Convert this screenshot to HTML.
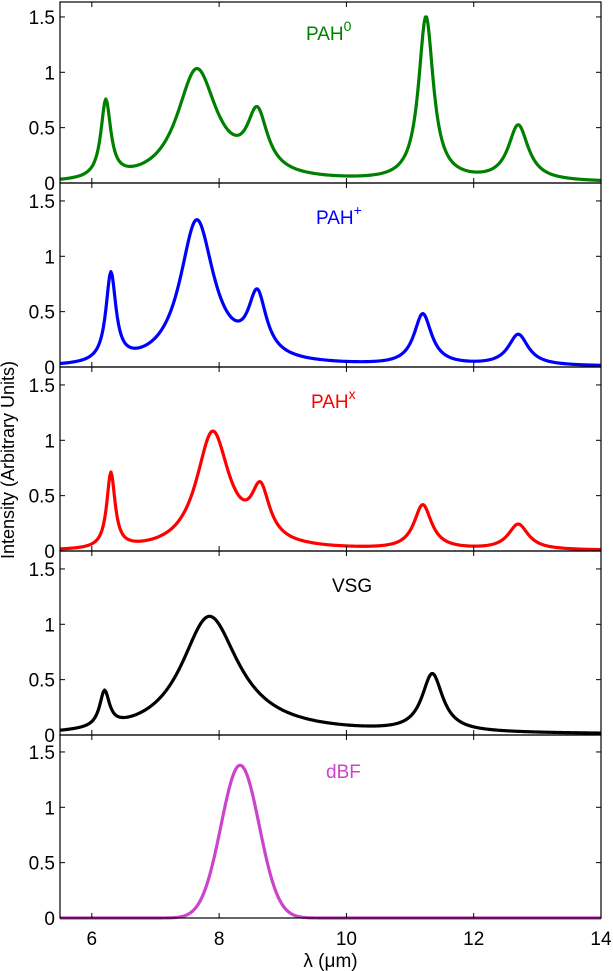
<!DOCTYPE html>
<html><head><meta charset="utf-8"><style>
body{margin:0;background:#fff}
svg{display:block;font-family:"Liberation Sans",sans-serif}
</style></head><body>
<svg id="chart" width="613" height="971" viewBox="0 0 613 971"></svg>
<script>
// Data: peak parameters (center µm, peak height, fractional width)
const xTicks = [6, 8, 10, 12, 14];
const yTicks = [0, 0.5, 1, 1.5];
const yTickLabels = ["0", "0.5", "1", "1.5"];
const pah0Centers = [6.22, 7.65, 8.6, 11.25, 12.7];
const pah0Heights = [0.70, 1.01, 0.53, 1.48, 0.50];
const pah0Widths  = [0.030, 0.10, 0.045, 0.025, 0.030];
const pahpCenters = [6.3, 7.65, 8.6, 11.2, 12.7];
const pahpHeights = [0.80, 1.31, 0.55, 0.46, 0.28];
const pahpWidths  = [0.030, 0.085, 0.040, 0.030, 0.030];
const pahxCenters = [6.3, 7.9, 8.65, 11.2, 12.7];
const pahxHeights = [0.68, 1.06, 0.45, 0.40, 0.23];
const pahxWidths  = [0.025, 0.080, 0.040, 0.030, 0.030];
const vsgCenters = [6.2, 7.85, 11.35];
const vsgHeights = [0.32, 1.07, 0.52];
const vsgWidths  = [0.030, 0.14, 0.035];
const dbfCenter = [8.33];
const dbfHeight = [1.38];
const dbfSigma  = [0.30];

const svg = document.getElementById('chart');
const NS = 'http://www.w3.org/2000/svg';
const X0 = 60, X1 = 601, XMIN = 5.5, XMAX = 14;
const panels = [
  {top:2, bot:183, name:'pah0', color:'#008000', label:'PAH', sup:'0', lx:306, ly:40},
  {top:183, bot:367, name:'pah-plus', color:'#0000ff', label:'PAH', sup:'+', lx:316, ly:224},
  {top:367, bot:551, name:'pah-x', color:'#ff0000', label:'PAH', sup:'x', lx:311, ly:408},
  {top:551, bot:735, name:'vsg', color:'#000000', label:'VSG', sup:'', lx:332, ly:592},
  {top:735, bot:918, name:'dbf', color:'#cc44cc', label:'dBF', sup:'', lx:326, ly:778}
];
const YPX = 110.7;
function xs(v){ return X0 + (v - XMIN) * (X1 - X0) / (XMAX - XMIN); }
function ysf(p){ return v => p.bot - v * YPX; }
function drude(l, cs, hs, ws){ let s = 0; for(let i=0;i<cs.length;i++){ const d = l/cs[i] - cs[i]/l; s += hs[i]*ws[i]*ws[i]/(d*d + ws[i]*ws[i]); } return s; }
function gauss(l){ let s=0; for(let i=0;i<dbfCenter.length;i++){ s += dbfHeight[i]*Math.exp(-0.5*Math.pow((l-dbfCenter[i])/dbfSigma[i],2)); } return s; }
const funcs = [
  l => drude(l, pah0Centers, pah0Heights, pah0Widths),
  l => drude(l, pahpCenters, pahpHeights, pahpWidths),
  l => drude(l, pahxCenters, pahxHeights, pahxWidths),
  l => drude(l, vsgCenters, vsgHeights, vsgWidths),
  l => gauss(l)
];
function el(tag, attrs, parent){ const e = document.createElementNS(NS, tag); for(const k in attrs) e.setAttribute(k, attrs[k]); (parent||svg).appendChild(e); return e; }

panels.forEach((p, idx) => {
  const g = el('g', {});
  
  
  const ys = ysf(p);
  let d = '';
  for(let l = XMIN; l <= XMAX + 1e-9; l += 0.02){ d += (d ? 'L' : 'M') + xs(l).toFixed(2) + ' ' + ys(funcs[idx](l)).toFixed(2); }
  const path = el('path', {d:d, fill:'none', stroke:p.color, 'stroke-width':3.2, 'stroke-linejoin':'round'}, g);
  
  
  const fr = el('rect', {x:X0, y:p.top, width:X1-X0, height:p.bot-p.top, fill:'none', stroke:'#000', 'stroke-width':1.2}, g);
  
  
  xTicks.forEach(t => {
    const x = xs(t);
    el('line', {x1:x, x2:x, y1:p.bot, y2:p.bot-5, stroke:'#000', 'stroke-width':1}, g);
    el('line', {x1:x, x2:x, y1:p.top, y2:p.top+5, stroke:'#000', 'stroke-width':1}, g);
  });
  yTicks.forEach((t, i) => {
    const y = ys(t);
    el('line', {x1:X0, x2:X0+5, y1:y, y2:y, stroke:'#000', 'stroke-width':1}, g);
    el('line', {x1:X1, x2:X1-5, y1:y, y2:y, stroke:'#000', 'stroke-width':1}, g);
    const tx = el('text', {x:55, y:y+7, 'text-anchor':'end', 'font-size':19, fill:'#000'}, g);
    tx.textContent = yTickLabels[i];
    
    
  });
  const lab = el('text', {x:p.lx, y:p.ly, 'font-size':19, fill:p.color}, g);
  lab.textContent = p.label;
  if(p.sup){ const s = el('tspan', {dy:-9, 'font-size':14}, lab); s.textContent = p.sup; }
  
  
});
xTicks.forEach(t => {
  const tx = el('text', {x:xs(t), y:945, 'text-anchor':'middle', 'font-size':19, fill:'#000'});
  tx.textContent = String(t);
  
  
});
const xt = el('text', {x:xs(9.75), y:967, 'text-anchor':'middle', 'font-size':19, fill:'#000'});
xt.textContent = 'λ (μm)';


const yt = el('text', {x:0, y:0, 'text-anchor':'middle', 'font-size':18, fill:'#000', transform:'translate(14,460) rotate(-90)'});
yt.textContent = 'Intensity (Arbitrary Units)';


</script>
</body></html>
